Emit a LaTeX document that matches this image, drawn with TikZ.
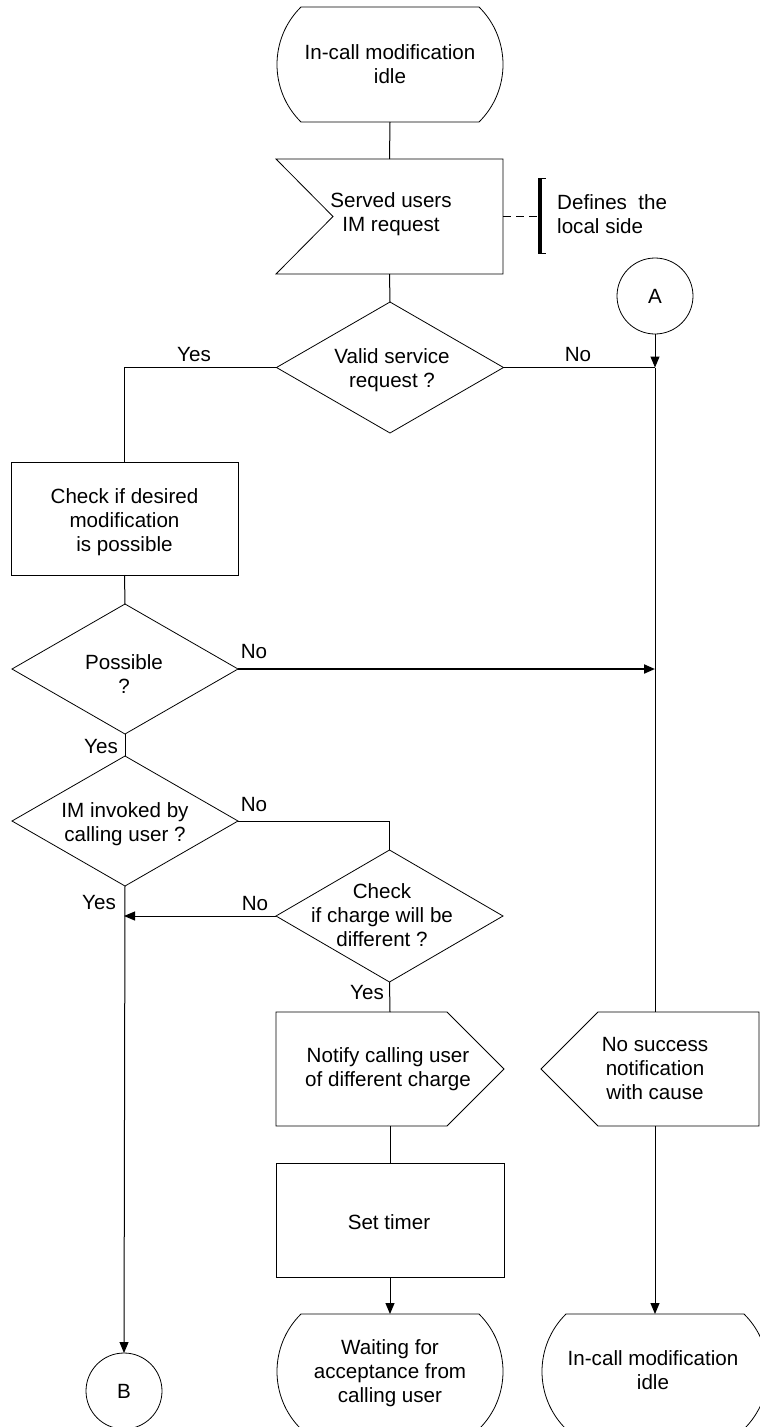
\documentclass[tikz,border=0pt]{standalone}
\usepackage{fontspec}
\setmainfont{Liberation Sans}
\usetikzlibrary{arrows.meta,calc,shapes.geometric}
\tikzset{
  txt/.style={font=\fontsize{20.6}{24}\selectfont, align=center, inner sep=0pt},
  shp/.style={draw, line width=0.8pt},
  conn/.style={line width=1pt},
  arr/.style={conn, -{Triangle[length=11pt,width=9pt]}},
  ghost/.style={draw=none, rectangle, inner sep=0pt, outer sep=0pt},
  taskbox/.style={shp, rectangle, inner sep=0pt, outer sep=0pt, minimum width=227pt, minimum height=114pt},
  decision/.style={shp, diamond, inner sep=0pt, outer sep=0pt, minimum width=227pt, minimum height=131pt},
  connector/.style={shp, circle, inner sep=0pt, outer sep=0pt, minimum size=76pt},
  lbl/.style={txt},
  stateoutline/.pic={\draw[shp] (-89,-57.5) -- (89,-57.5) .. controls (121,-26) and (121,26) .. (89,57.5) -- (-89,57.5) .. controls (-121,26) and (-121,-26) .. (-89,-57.5) -- cycle;},
  inputoutline/.pic={\draw[shp] (-113.5,-57.5) -- (113.5,-57.5) -- (113.5,57.5) -- (-113.5,57.5) -- (-56.5,0) -- cycle;},
  outputright/.pic={\draw[shp] (-114,-57) -- (57,-57) -- (114,0) -- (57,57) -- (-114,57) -- cycle;},
  outputleft/.pic={\draw[shp] (-114,0) -- (-57,-57) -- (104,-57) -- (104,57) -- (-57,57) -- cycle;},
}
\begin{document}
\begin{tikzpicture}[x=1pt,y=-1pt]
\useasboundingbox (0,0) rectangle (760,1427);

% states and shapes
\pic at (390,64.5) {stateoutline};
\node[ghost, minimum width=226pt, minimum height=115pt] (s1) at (390,64.5) {};
\node[txt] (s1t) at (390,64) {In-call modification\\idle};

\pic at (389.5,216.5) {inputoutline};
\node[ghost, minimum width=227pt, minimum height=115pt] (in1) at (389.5,216.5) {};
\node[txt] (in1t) at (391,214) {Served users\\IM request};

\node[decision, minimum height=131pt] (d1) at (390,367.5) {};
\node[txt] (d1t) at (392,370) {Valid service\\request ?};

\node[connector] (A) at (655,296) {};
\node[txt] (At) at (655,296) {A};

\node[taskbox, minimum height=113pt] (t1) at (124.5,518.5) {};
\node[txt] (t1t) at (124.5,522) {Check if desired\\modification\\is possible};

\node[decision, minimum width=226pt, minimum height=130pt] (d2) at (125,669) {};
\node[txt] (d2t) at (124,674) {Possible\\?};

\node[decision, minimum width=226pt, minimum height=130pt] (d3) at (125,821) {};
\node[txt] (d3t) at (125,824) {IM invoked by\\calling user ?};

\node[decision, minimum height=132pt] (d4) at (389.5,916) {};
\node[txt] (d4t) at (382,915) {Check\\if charge will be\\different ?};

\pic at (390,1069) {outputright};
\node[ghost, minimum width=228pt, minimum height=114pt] (o1) at (390,1069) {};
\node[txt] (o1t) at (388,1069) {Notify calling user\\of different charge};

\pic at (655,1069) {outputleft};
\node[ghost, minimum width=218pt, minimum height=114pt] (o2) at (655,1069) {};
\node[txt] (o2t) at (655,1069) {No success\\notification\\with cause};

\node[taskbox, minimum width=228pt] (tm) at (390,1220) {};
\node[txt] (tmt) at (389,1222) {Set timer};

\pic at (390,1371.5) {stateoutline};
\node[ghost, minimum width=226pt, minimum height=115pt] (s2) at (390,1371.5) {};
\node[txt] (s2t) at (390,1373) {Waiting for\\acceptance from\\calling user};

\pic at (655,1371.5) {stateoutline};
\node[ghost, minimum width=226pt, minimum height=115pt] (s3) at (655,1371.5) {};
\node[txt] (s3t) at (653,1370) {In-call modification\\idle};

\node[connector] (B) at (124,1391) {};
\node[txt] (Bt) at (124,1391) {B};

% junction coordinates
\coordinate (J1) at (A.south |- d1.east);
\coordinate (J2) at (A.south |- d2.east);
\coordinate (J3) at (B.north |- d4.west);
\coordinate (brk) at (540,216.5);

% connectors
\draw[conn] (s1.south) -- (in1.north);
\draw[conn] (in1.south) -- (d1.north);
\draw[conn] (d1.west) -| (t1.north);
\draw[conn] (d1.east) -- (J1);
\draw[arr] (A.south) -- (J1);
\draw[conn] (J1) -- (o2.north);
\draw[conn] (t1.south) -- (d2.north);
\draw[arr, line width=2pt] (d2.east) -- (J2);
\draw[conn] (d2.south) -- (d3.north);
\draw[conn] (d3.east) -| (d4.north);
\draw[arr] (d3.south) -- (B.north);
\draw[arr] (d4.west) -- (J3);
\draw[conn] (d4.south) -- (o1.north);
\draw[conn] (o1.south) -- (tm.north);
\draw[arr] (tm.south) -- (s2.north);
\draw[arr] (o2.south) -- (s3.north);

% comment
\draw[conn, line width=1.3pt, dash pattern=on 8pt off 5pt] (in1.east) -- (brk);
\draw[line width=3.2pt] (540,178) -- (540,254);
\draw[line width=0.8pt] (540,178.5) -- (546,178.5) (540,253.5) -- (546,253.5);
\node[txt, align=left, anchor=west] (cm) at (557,214) {Defines\ \ the\\local side};

% labels
\node[lbl] (y1) at (194,355) {Yes};
\node[lbl] (n1) at (578,355) {No};
\node[lbl] (n2) at (254,652) {No};
\node[lbl] (y2) at (101,747) {Yes};
\node[lbl] (n3) at (254,805) {No};
\node[lbl] (y3) at (99,903) {Yes};
\node[lbl] (n4) at (255,904) {No};
\node[lbl] (y4) at (367,993) {Yes};
\end{tikzpicture}
\end{document}
